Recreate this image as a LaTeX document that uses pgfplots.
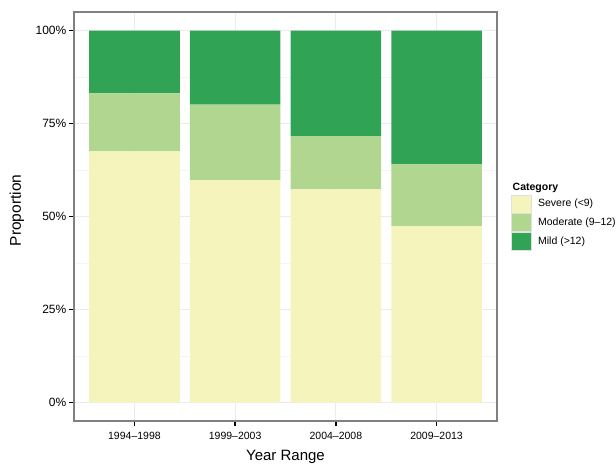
\documentclass[border=0pt]{standalone}
\usepackage{pgfplots}
\pgfplotsset{compat=1.18}
\usepackage{fontspec}
\setmainfont{Liberation Sans}
\definecolor{severe}{HTML}{F5F4BC}
\definecolor{moderate}{HTML}{B0D68F}
\definecolor{mild}{HTML}{31A354}
\definecolor{gridc}{HTML}{EBEBEB}
\definecolor{minorgridc}{HTML}{F4F4F4}
\definecolor{framec}{HTML}{808080}
\begin{document}
\begin{tikzpicture}
\useasboundingbox (0,0) rectangle (616pt,464pt);
\begin{axis}[
  at={(74pt,43pt)}, anchor=south west,
  scale only axis, width=423pt, height=409pt,
  xmin=0.4, xmax=4.6, ymin=-5, ymax=105,
  ybar stacked, bar width=0.9,
  xtick={1,2,3,4},
  xticklabels={1994--1998,1999--2003,2004--2008,2009--2013},
  ytick={0,25,50,75,100},
  yticklabels={0\%,25\%,50\%,75\%,100\%},
  minor ytick={12.5,37.5,62.5,87.5},
  grid=both,
  major grid style={color=gridc, line width=0.8pt},
  minor grid style={color=minorgridc, line width=0.5pt},
  axis line style={draw=framec, line width=1.1pt},
  xtick pos=bottom, ytick pos=left, tick align=outside,
  major tick length=4.5pt,
  major tick style={draw=black, line width=1.5pt},
  minor tick style={draw=none},
  xticklabel style={font=\fontsize{10.5}{12}\selectfont, inner sep=0pt, anchor=north, yshift=-6pt},
  yticklabel style={font=\fontsize{12}{14}\selectfont, inner sep=0pt, anchor=east, xshift=-3pt},
  xlabel={Year Range},
  ylabel={Proportion},
  xlabel style={font=\fontsize{15}{17}\selectfont, at={(axis description cs:0.5,-0.0954)}, anchor=base},
  ylabel style={font=\fontsize{15.5}{17}\selectfont, at={(axis description cs:-0.1348,0.515)}, anchor=center},
  legend style={draw=none, fill=none, at={(rel axis cs:1.0338,0.554)}, anchor=north west,
    inner sep=0pt, row sep=0pt,
    nodes={inner sep=0pt, anchor=west, font=\fontsize{10.5}{12}\selectfont}},
  legend image code/.code={\fill[#1, draw=black!12, line width=0.6pt] (0pt,-9pt) rectangle (19pt,9pt);},
  legend cell align=left,
  /tikz/every odd column/.append style={column sep=7pt},
]
\addplot[fill=severe, draw=none] coordinates {(1,67.5) (2,59.8) (3,57.3) (4,47.4)};
\addplot[fill=moderate, draw=none] coordinates {(1,15.6) (2,20.3) (3,14.3) (4,16.6)};
\addplot[fill=mild, draw=none] coordinates {(1,16.9) (2,19.9) (3,28.4) (4,36.0)};
\legend{Severe (<9),Moderate (9--12),Mild (>12)}
\end{axis}
\node[anchor=base west, font=\bfseries\fontsize{10.5}{12}\selectfont, inner sep=0pt] at (512.5pt,273pt) {Category};
\end{tikzpicture}
\end{document}
